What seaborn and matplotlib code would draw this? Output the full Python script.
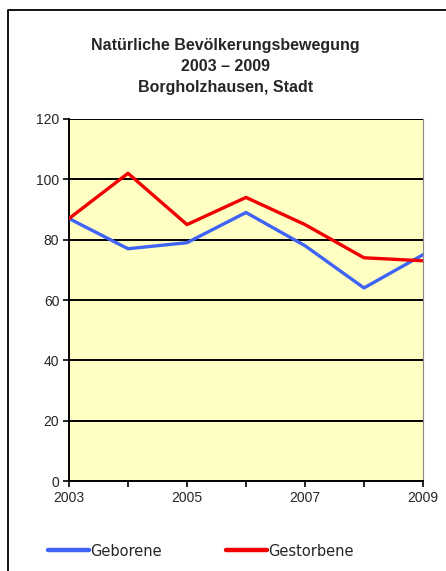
"""Natürliche Bevölkerungsbewegung Borgholzhausen, 2003-2009."""
import pandas as pd
import matplotlib
matplotlib.use("Agg")
import matplotlib.pyplot as plt
from matplotlib.lines import Line2D
import seaborn as sns

years = [2003, 2004, 2005, 2006, 2007, 2008, 2009]
geborene = [87, 77, 79, 89, 78, 64, 75]
gestorbene = [87, 102, 85, 94, 85, 74, 73]
series_names = ["Geborene", "Gestorbene"]
year_labels = ["2003", "", "2005", "", "2007", "", "2009"]
y_ticks = [0, 20, 40, 60, 80, 100, 120]


def main():
    df = pd.DataFrame({"Jahr": years * 2,
                       "Anzahl": geborene + gestorbene,
                       "Reihe": [series_names[0]] * len(years) + [series_names[1]] * len(years)})

    sns.set_style("white")
    plt.rcParams["font.family"] = ["Liberation Sans", "DejaVu Sans"]

    fig = plt.figure(figsize=(4.46, 5.71), dpi=100)
    ax = fig.add_axes([0.1547, 0.1576, 0.7937, 0.634])
    ax.set_facecolor("#FFFFC4")

    sns.lineplot(data=df, x="Jahr", y="Anzahl", hue="Reihe",
                 palette={"Geborene": "#3F63F5", "Gestorbene": "#F00000"},
                 linewidth=2.4, ax=ax, legend=False, zorder=3)

    ax.set_xlim(2003, 2009)
    ax.set_ylim(0, 120)
    ax.set_xticks(years)
    ax.set_xticklabels(year_labels)
    ax.set_yticks(y_ticks)
    ax.set_xlabel("")
    ax.set_ylabel("")
    for y in y_ticks[1:]:
        ax.axhline(y, color="black", lw=1.4, zorder=2)
    for s in ["left", "bottom"]:
        ax.spines[s].set_color("black")
        ax.spines[s].set_linewidth(1.4)
    for s in ["top", "right"]:
        ax.spines[s].set_visible(False)
    ax.plot([1, 1], [0, 1], transform=ax.transAxes, color="#888888", lw=0.8, clip_on=False)
    ax.tick_params(axis="both", direction="out", length=4, width=1.2, color="black",
                   labelsize=10, pad=3, bottom=True, left=True)

    fig.text(0.505, 0.883, "Natürliche Bevölkerungsbewegung\n2003 – 2009\nBorgholzhausen, Stadt",
             ha="center", va="center", fontsize=11.5, fontweight="bold", linespacing=1.5)

    handles = [Line2D([], [], color="#3F63F5", lw=3.2),
               Line2D([], [], color="#F00000", lw=3.2)]
    fig.legend(handles, series_names, loc="center left", bbox_to_anchor=(0.078, 0.035),
               ncol=2, frameon=False, handlelength=2.8, handletextpad=0.1,
               columnspacing=4.4, prop={"family": "DejaVu Sans", "size": 10.5})

    # outer frame, cut off at right and bottom
    fig.add_artist(Line2D([8 / 446, 8 / 446, 1.0], [0.0, 1 - 10 / 571, 1 - 10 / 571],
                          transform=fig.transFigure, color="black", lw=1.3))

    fig.savefig("out.png", dpi=100)
    plt.close(fig)


if __name__ == "__main__":
    main()
